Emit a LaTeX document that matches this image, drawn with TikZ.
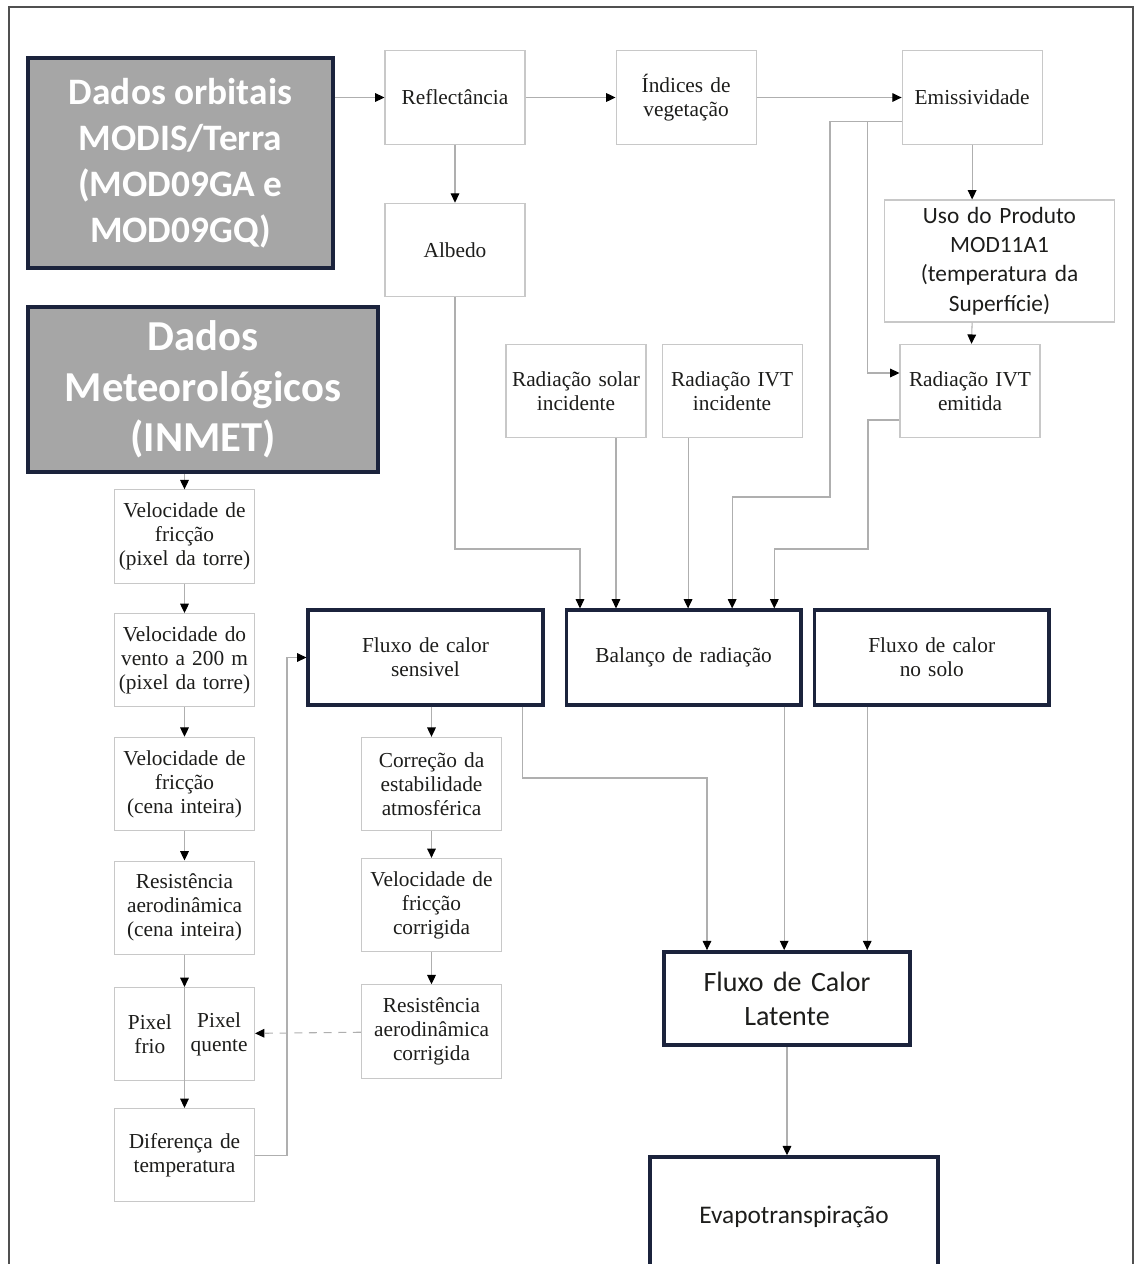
\documentclass[tikz,border=0pt]{standalone}
\usepackage{fontspec}
\setmainfont{Liberation Serif}
\newfontfamily\calibfont{Carlito}
\usetikzlibrary{positioning,arrows.meta}
\definecolor{colorsource}  {RGB}{166,166,166}
\definecolor{colornavy}    {RGB}{27 ,35 ,60 }
\definecolor{colorline}    {RGB}{175,175,175}
\definecolor{colorbox}     {RGB}{200,200,200}
\definecolor{colorframe}   {RGB}{80 ,80 ,80 }
\definecolor{colortext}    {RGB}{29 ,29 ,27 }

\begin{document}
\begin{tikzpicture}[
    x=0.75pt, y=-0.75pt,
    base/.style={text=colortext,font={\fontsize{16}{18}\selectfont},inner sep=1pt,align=center,rectangle},
    stepbox/.style={base,draw=colorbox,line width=0.8pt,text width=103pt,minimum height=70pt},
    fluxbox/.style={base,draw=colornavy,line width=2.6pt,text width=170pt,minimum width=176pt,minimum height=71pt},
    sourcebox/.style={base,fill=colorsource,draw=colornavy,line width=3pt,text=white},
    flow/.style={draw=colorline,line width=0.8pt,-{Triangle[length=7pt,width=6.5pt,color=black]}},
    pageframe/.style={draw=colorframe,line width=2pt},
]
    \useasboundingbox (0,0) rectangle (1136,1264);
    \clip (0,0) rectangle (1136,1264);
    \draw[pageframe] (9,1270) -- (9,7) -- (1133,7) -- (1133,1270);

    % Source data
    \node[sourcebox,minimum width=229pt,minimum height=157.5pt,font={\calibfont\bfseries\fontsize{28}{34.5}\selectfont}] (orbital) at (180.5,163) {Dados orbitais\\MODIS/Terra\\(MOD09GA e\\MOD09GQ)};
    \node[sourcebox,minimum width=262.5pt,minimum height=124pt,font={\calibfont\bfseries\fontsize{32}{38}\selectfont}] (meteo) at (203,389.5) {Dados\\Meteorológicos\\(INMET)};

    % Orbital chain
    \node[stepbox] (refl) at (455,97.5) {Reflectância};
    \node[stepbox,right=67.5pt of refl] (indices) {Índices de\\vegetação};
    \node[stepbox,right=108.75pt of indices] (emiss) {Emissividade};
    \node[stepbox,below=43.5pt of refl] (albedo) {Albedo};
    \node[stepbox,text width=170pt,minimum height=91.5pt,font={\calibfont\fontsize{17.5}{22}\selectfont}] (produto) at (999.5,261) {Uso do Produto\\MOD11A1\\(temperatura da\\Superfície)};
    \node[stepbox] (radsol) at (576,391) {Radiação solar\\incidente};
    \node[stepbox,right=11.25pt of radsol] (radivt) {Radiação IVT\\incidente};
    \node[stepbox] (radem) at (970,391) {Radiação IVT\\emitida};

    % Flux row
    \node[fluxbox] (sensivel) at (425.5,657.5) {Fluxo de calor\\sensivel};
    \node[fluxbox,right=15pt of sensivel] (balanco) {Balanço de radiação};
    \node[fluxbox,right=7.5pt of balanco] (solo) {Fluxo de calor\\no solo};

    % Meteorological chain
    \node[stepbox] (vfpixel) at (184.5,536.5) {Velocidade de\\fricção\\(pixel da torre)};
    \node[stepbox,below=22pt of vfpixel] (vento) {Velocidade do\\vento a 200 m\\(pixel da torre)};
    \node[stepbox,below=22pt of vento] (vfcena) {Velocidade de\\fricção\\(cena inteira)};
    \node[stepbox,below=22pt of vfcena] (racena) {Resistência\\aerodinâmica\\(cena inteira)};
    \node[stepbox,below=24pt of racena] (pixel) {};
    \node[base] (frio) at ([xshift=-26pt]pixel.center) {Pixel\\frio};
    \node[base] (quente) at ([xshift=26pt]pixel.center) {Pixel\\quente};
    \node[stepbox,below=20pt of pixel] (difer) {Diferença de\\temperatura};

    % Correction chain
    \node[stepbox] (correcao) at (431.5,784) {Correção da\\estabilidade\\atmosférica};
    \node[stepbox,below=20pt of correcao] (vfcorr) {Velocidade de\\fricção\\corrigida};
    \node[stepbox,below=24pt of vfcorr] (racorr) {Resistência\\aerodinâmica\\corrigida};

    % Latent heat and ET
    \node[fluxbox,text width=178pt,minimum width=184.5pt,minimum height=70pt,font={\calibfont\fontsize{21}{25.5}\selectfont}] (latente) at (787,998.5) {Fluxo de Calor\\Latente};
    \node[fluxbox,text width=210pt,minimum width=216pt,minimum height=90pt,font={\calibfont\fontsize{19}{23}\selectfont}] (evapo) at (794,1217) {Evapotranspiração};

    % Bends
    \coordinate (embend) at (830,497);
    \coordinate (ivtbend) at (868,549);
    \coordinate (albbend) at (580,549);
    \coordinate (sensbend) at (707,778);
    \coordinate (difbend) at (287,657.5);
    \coordinate (solfeed) at ([xshift=30pt]radsol.south);
    \coordinate (ivtfeed) at ([xshift=-33pt]radivt.south);
    \coordinate (sensout) at ([xshift=73pt]sensivel.south);
    \coordinate (balout) at ([xshift=75.4pt]balanco.south);
    \coordinate (soloout) at ([xshift=-48.4pt]solo.south);

    % Orbital arrows
    \draw[flow] (orbital.east |- refl.west) -- (refl.west);
    \draw[flow] (refl) -- (indices);
    \draw[flow] (indices) -- (emiss);
    \draw[flow] (refl) -- (albedo);
    \draw[flow] (emiss) -- (emiss.south |- produto.north);
    \draw[flow] (emiss.south |- produto.south) -- (radem);
    \draw[flow] ([yshift=-18pt]emiss.west) -| ([xshift=-24pt,yshift=13.5pt]radem.west) -- ([yshift=13.5pt]radem.west);

    % Radiation balance inputs
    \draw[flow] (albedo) |- (albbend) -- (albbend |- balanco.north);
    \draw[flow] (solfeed) -- (solfeed |- balanco.north);
    \draw[flow] (ivtfeed) -- (ivtfeed |- balanco.north);
    \draw[flow] ([yshift=-18pt]emiss.west) -| (embend) -| ([xshift=36.4pt]balanco.north);
    \draw[flow] ([yshift=-21.75pt]radem.west) -| (ivtbend) -| ([xshift=68pt]balanco.north);

    % Latent heat inputs
    \draw[flow] (sensout) |- (sensbend) -- (sensbend |- latente.north);
    \draw[flow] (balout) -- (balout |- latente.north);
    \draw[flow] (soloout) -- (soloout |- latente.north);
    \draw[flow] (latente.south) -- (latente.south |- evapo.north);

    % Correction arrows
    \draw[flow] (sensivel.south -| correcao) -- (correcao);
    \draw[flow] (correcao) -- (vfcorr);
    \draw[flow] (vfcorr) -- (racorr);
    \draw[flow,dash pattern=on 6pt off 5pt] (racorr) -- (pixel);

    % Meteorological arrows
    \draw[flow] (vfpixel.north |- meteo.south) -- (vfpixel);
    \draw[flow] (vfpixel) -- (vento);
    \draw[flow] (vento) -- (vfcena);
    \draw[flow] (vfcena) -- (racena);
    \draw[flow] (racena) -- (pixel);
    \draw[flow] (pixel.north) -- (difer);
    \draw[flow] (difer) -| (difbend) -- (sensivel);

\end{tikzpicture}
\end{document}
